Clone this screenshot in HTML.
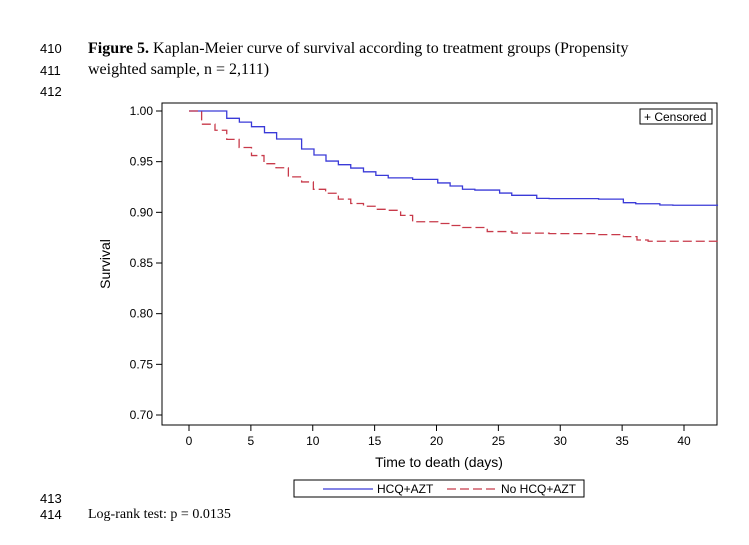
<!DOCTYPE html>
<html><head><meta charset="utf-8"><style>
body{margin:0;background:#fff;width:749px;height:545px;overflow:hidden;position:relative;font-family:"Liberation Serif",serif}
.ln{position:absolute;left:40px;font-family:"Liberation Sans",sans-serif;font-size:13px;color:#000}
.tx{position:absolute;left:88px;font-size:16px;color:#000;white-space:nowrap}
svg{position:absolute;left:0;top:0}
</style></head><body>
<div class="ln" style="top:41px">410</div>
<div class="ln" style="top:63px">411</div>
<div class="ln" style="top:84px">412</div>
<div class="ln" style="top:491px">413</div>
<div class="ln" style="top:507px">414</div>
<div class="tx" style="top:40px"><b>Figure 5.</b> Kaplan-Meier curve of survival according to treatment groups (Propensity</div>
<div class="tx" style="top:61px">weighted sample, n = 2,111)</div>
<div class="tx" style="top:507px;font-size:14px">Log-rank test: p = 0.0135</div>
<svg id="chart" width="749" height="545" font-family="Liberation Sans, sans-serif"></svg>
<script>
const xTicks=[0,5,10,15,20,25,30,35,40];
const yTicks=[0.70,0.75,0.80,0.85,0.90,0.95,1.00];
const hcqTimes=[0,3.05,4.07,5.05,6.1,7.08,9.1,10.1,11.07,12.07,13.07,14.1,15.1,16.1,18.07,20.1,21.1,22.1,23.1,25.1,26.08,28.1,29.1,33.1,35.1,36.1,38.05,39.1];
const hcqSurv=[1.0,0.9928,0.989,0.9845,0.9786,0.9724,0.9625,0.9566,0.9506,0.947,0.9437,0.94,0.9365,0.934,0.9325,0.929,0.926,0.9228,0.922,0.919,0.9168,0.9138,0.9135,0.913,0.9095,0.9085,0.9072,0.907];
const noTimes=[0,1.02,2.1,3.05,4.05,5.05,6.06,7.03,8.03,9.1,10.05,11.04,12.07,13.07,14.1,15.1,16.1,17.1,18.07,20.1,21.1,22.1,24.1,26.1,29.1,33.1,35.1,36.2,37.1];
const noSurv=[1.0,0.987,0.981,0.972,0.964,0.956,0.948,0.944,0.935,0.930,0.9227,0.9188,0.913,0.9087,0.906,0.903,0.902,0.897,0.8907,0.889,0.887,0.885,0.881,0.8795,0.879,0.878,0.876,0.8727,0.8715];
const maxT=42.75;
const L=162,R=717,T=103,B=425;
const xs=t=>189+t*(684-189)/40;
const ys=v=>111+(1-v)*(415-111)/0.30;
const svg=document.getElementById('chart');
const NS='http://www.w3.org/2000/svg';
function mk(tag,attrs,parent){const e=document.createElementNS(NS,tag);for(const k in attrs)e.setAttribute(k,attrs[k]);(parent||svg).appendChild(e);return e;}
const frame=mk('rect',{x:L,y:T,width:R-L,height:B-T,fill:'none',stroke:'#000','stroke-width':1});


xTicks.forEach(t=>{const x=xs(t);
 const l=mk('line',{x1:x,x2:x,y1:B,y2:B+6,stroke:'#000'});
 
 
 const tx=mk('text',{x:x,y:B+20,'font-size':12,'text-anchor':'middle'});tx.textContent=t;
 
 
});
yTicks.forEach(v=>{const y=ys(v);
 const l=mk('line',{x1:L-6,x2:L,y1:y,y2:y,stroke:'#000'});
 
 
 const tx=mk('text',{x:L-9,y:y+4,'font-size':12,'text-anchor':'end'});tx.textContent=v.toFixed(2);
 
 
});
const xt=mk('text',{x:439,y:467,'font-size':14,'text-anchor':'middle'});xt.textContent='Time to death (days)';


const yt=mk('text',{x:0,y:0,'font-size':14,'text-anchor':'middle',transform:'translate(110,264) rotate(-90)'});yt.textContent='Survival';


function stepPath(ts,vs){let d='M'+xs(ts[0])+','+ys(vs[0]);for(let i=1;i<ts.length;i++){d+=' H'+xs(ts[i])+' V'+ys(vs[i]);}d+=' H'+xs(maxT);return d;}
const p1=mk('path',{d:stepPath(hcqTimes,hcqSurv),fill:'none',stroke:'#3a3ad8','stroke-width':1.3});


const p2=mk('path',{d:stepPath(noTimes,noSurv),fill:'none',stroke:'#c83a4a','stroke-width':1.3,'stroke-dasharray':'9,4'});


const cb=mk('g',{});


mk('rect',{x:640,y:109,width:72,height:15,fill:'#fff',stroke:'#000'},cb);
const ct=mk('text',{x:644,y:121,'font-size':12},cb);ct.textContent='+ Censored';
const lg=mk('g',{});


mk('rect',{x:294,y:480,width:290,height:17,fill:'#fff',stroke:'#000'},lg);
mk('line',{x1:323,x2:373,y1:489,y2:489,stroke:'#3a3ad8','stroke-width':1.3},lg);
const l1=mk('text',{x:377,y:493,'font-size':12},lg);l1.textContent='HCQ+AZT';
mk('line',{x1:447,x2:497,y1:489,y2:489,stroke:'#c83a4a','stroke-width':1.3,'stroke-dasharray':'9,4'},lg);
const l2=mk('text',{x:501,y:493,'font-size':12},lg);l2.textContent='No HCQ+AZT';
</script>
</body></html>
